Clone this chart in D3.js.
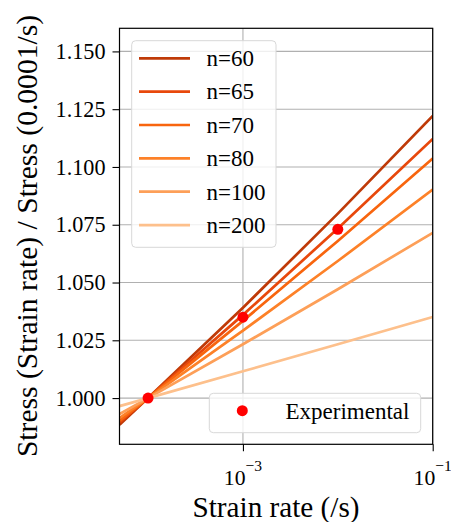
<!DOCTYPE html>
<html>
<head>
<meta charset="utf-8">
<script src="https://cdn.jsdelivr.net/npm/d3@7"></script>
<style>
  html, body { margin: 0; padding: 0; background: #fff; }
  svg { display: block; }
</style>
</head>
<body>
<svg id="chart" width="451" height="522"></svg>
<script>
// ---- data ----
const strainRates = [5e-5, 1e-4, 1e-3, 1e-2, 1e-1];
const seriesNames = ["n=60", "n=65", "n=70", "n=80", "n=100", "n=200"];
const s60  = [0.9885, 1.0000, 1.0391, 1.0798, 1.1221];
const s65  = [0.9894, 1.0000, 1.0360, 1.0734, 1.1121];
const s70  = [0.9902, 1.0000, 1.0334, 1.0680, 1.1037];
const s80  = [0.9914, 1.0000, 1.0292, 1.0593, 1.0902];
const s100 = [0.9931, 1.0000, 1.0233, 1.0471, 1.0715];
const s200 = [0.9965, 1.0000, 1.0116, 1.0233, 1.0351];
const seriesColors = ["#bf3a08", "#e8480c", "#f8650e", "#fd8128", "#fd9f58", "#fdc08c"];
const expRates = [1e-4, 1e-3, 1e-2];
const expValues = [1.000, 1.035, 1.073];
const yTicks = [1.000, 1.025, 1.050, 1.075, 1.100, 1.125, 1.150];
const xTicks = [1e-3, 1e-1];
const xTickExp = ["\u22123", "\u22121"];

const allSeries = [s60, s65, s70, s80, s100, s200];
const FONT = "Liberation Serif";

// ---- layout ----
const svg = d3.select("#chart");
const L = 119.5, R = 432.7, T = 28.3, B = 444.3;

const x = d3.scaleLog().domain([5e-5, 1e-1]).range([L, R]);
const y = d3.scaleLinear().domain([0.98, 1.16]).range([B, T]);

svg.append("clipPath").attr("id", "clip")
  .append("rect").attr("x", L).attr("y", T).attr("width", R - L).attr("height", B - T);

// grid
const grid = svg.append("g");
grid.selectAll("line.gy").data(yTicks).join("line")
  .attr("x1", L).attr("x2", R)
  .attr("y1", d => y(d)).attr("y2", d => y(d))
  .attr("stroke", "#b0b0b0").attr("stroke-width", 1.1);
grid.selectAll("line.gx").data(xTicks).join("line")
  .attr("y1", T).attr("y2", B)
  .attr("x1", d => x(d)).attr("x2", d => x(d))
  .attr("stroke", "#b0b0b0").attr("stroke-width", 1.1);

// lines
const line = d3.line().x(d => x(d[0])).y(d => y(d[1]));
const plot = svg.append("g").attr("clip-path", "url(#clip)");
allSeries.forEach((s, i) => {
  plot.append("path")
    .datum(strainRates.map((r, j) => [r, s[j]]))
    .attr("d", line)
    .attr("fill", "none")
    .attr("stroke", seriesColors[i])
    .attr("stroke-width", 2.7);
});

plot.selectAll("circle.exp").data(expRates).join("circle")
  .attr("cx", d => x(d)).attr("cy", (d, i) => y(expValues[i]))
  .attr("r", 5.5).attr("fill", "#ff0000");

// axes
const yAxis = d3.axisLeft(y).tickValues(yTicks).tickFormat(d3.format(".3f")).tickSize(7).tickPadding(7);
const gy = svg.append("g").attr("transform", `translate(${L},0)`).call(yAxis)
  .attr("font-family", FONT).attr("font-size", 22);
gy.select(".domain").remove();
gy.selectAll("text").attr("font-size", 22.2).attr("font-family", FONT).attr("fill", "#000");
gy.selectAll("line").attr("stroke", "#000").attr("stroke-width", 1.1);

const xAxis = d3.axisBottom(x).tickValues(xTicks).tickFormat("").tickSize(7);
const gx = svg.append("g").attr("transform", `translate(0,${B})`).call(xAxis);
gx.select(".domain").remove();
gx.selectAll("line").attr("stroke", "#000").attr("stroke-width", 1.1);

xTicks.forEach((t, i) => {
  const txt = svg.append("text")
    .attr("x", x(t)).attr("y", 484.5)
    .attr("text-anchor", "middle")
    .attr("font-family", FONT)
    .attr("font-size", 21.7);
  txt.append("tspan").text("10");
  txt.append("tspan").attr("dy", -14).attr("font-size", 15.6).text(xTickExp[i]);
});

svg.append("rect").attr("x", L).attr("y", T).attr("width", R - L).attr("height", B - T)
  .attr("fill", "none").attr("stroke", "#000").attr("stroke-width", 1.2);

// legend (series)
const lg = svg.append("g");
lg.append("rect").attr("x", 131.7).attr("y", 40.7).attr("width", 144.3).attr("height", 206.6)
  .attr("rx", 4).attr("fill", "#fff").attr("fill-opacity", 0.8)
  .attr("stroke", "#d8d8d8").attr("stroke-width", 1);
seriesNames.forEach((n, i) => {
  const cy = 58.3 + i * 33.35;
  lg.append("line").attr("x1", 139).attr("x2", 190).attr("y1", cy).attr("y2", cy)
    .attr("stroke", seriesColors[i]).attr("stroke-width", 2.7);
  lg.append("text").attr("x", 206.5).attr("y", cy + 7.8)
    .attr("font-family", FONT).attr("font-size", 23).text(n);
});

// legend (experimental)
const lg2 = svg.append("g");
lg2.append("rect").attr("x", 209.3).attr("y", 393.3).attr("width", 211.4).attr("height", 39.4)
  .attr("rx", 4).attr("fill", "#fff").attr("fill-opacity", 0.8)
  .attr("stroke", "#d8d8d8").attr("stroke-width", 1);
lg2.append("circle").attr("cx", 242.3).attr("cy", 410.7).attr("r", 5.5).attr("fill", "#ff0000");
lg2.append("text").attr("x", 285.5).attr("y", 418.5)
  .attr("font-family", FONT).attr("font-size", 23).text("Experimental");

// axis titles
svg.append("text").attr("x", 276).attr("y", 516.5)
  .attr("text-anchor", "middle").attr("font-family", FONT).attr("font-size", 29.2)
  .text("Strain rate (/s)");
svg.append("text")
  .attr("transform", `translate(37,${236}) rotate(-90)`)
  .attr("text-anchor", "middle").attr("font-family", FONT).attr("font-size", 29.6)
  .text("Stress (Strain rate) / Stress (0.0001/s)");
</script>
</body>
</html>
